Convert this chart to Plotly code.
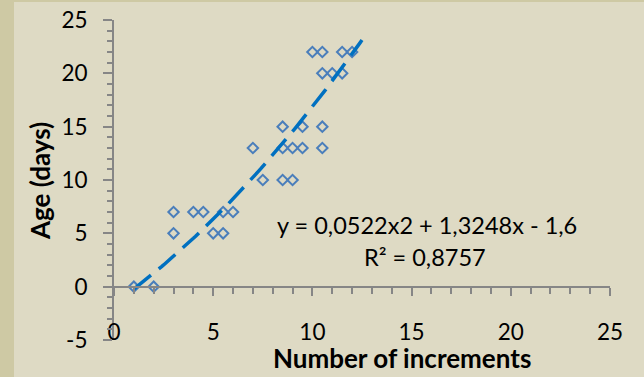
import plotly.graph_objects as go

# Data
increments = [1, 2, 3, 3, 4, 4.5, 5, 5.5, 5.5, 6, 7, 7.5, 8.5, 8.5, 8.5, 9, 9, 9.5, 9.5,
              10, 10.5, 10.5, 10.5, 10.5, 11, 11.5, 11.5, 12]
age_days = [0, 0, 7, 5, 7, 7, 5, 7, 5, 7, 13, 10, 15, 13, 10, 13, 10, 15, 13,
            22, 22, 20, 15, 13, 20, 20, 22, 22]

# Fitted polynomial shown on the chart
coef_a, coef_b, coef_c = 0.0522, 1.3248, -1.6
trend_x = [1 + i * 0.1 for i in range(116)]
trend_y = [coef_a * x * x + coef_b * x + coef_c for x in trend_x]

x_ticks = [0, 5, 10, 15, 20, 25]
x_labels = ["0", "5", "10", "15", "20", "25"]
y_ticks = [-5, 0, 5, 10, 15, 20, 25]
y_labels = ["-5", "0", "5", "10", "15", "20", "25"]

W, H = 644, 377
FONT = "Lato"
inner_bg = "#DEDAC4"
outer_bg = "#CEC9A4"
axis_col = "#868686"

x0_px, x1_px = 114, 610
ytop_px, ybot_px = 20, 340
xdom = [x0_px / W, x1_px / W]
ydom = [(H - ybot_px) / H, (H - ytop_px) / H]
y_zero_pos = ydom[0] + (ydom[1] - ydom[0]) * (0 - (-5)) / 30

fig = go.Figure()
fig.add_trace(go.Scatter(
    x=increments, y=age_days, mode="markers",
    marker=dict(symbol="diamond-open", size=8, color="#4A7EBB", line=dict(width=2, color="#4A7EBB")),
    showlegend=False, hoverinfo="skip"))
fig.add_trace(go.Scatter(
    x=trend_x, y=trend_y, mode="lines",
    line=dict(color="#0070C0", width=3.5, dash="22px,10px"),
    showlegend=False, hoverinfo="skip"))

fig.update_layout(
    width=W, height=H,
    margin=dict(l=0, r=0, t=0, b=0, autoexpand=False),
    paper_bgcolor=inner_bg, plot_bgcolor=inner_bg,
    font=dict(family=FONT, size=22, color="black"),
    xaxis=dict(
        domain=xdom, range=[0, 25], tickvals=x_ticks, ticktext=x_labels,
        anchor="free", position=y_zero_pos, automargin=False,
        showline=True, linecolor=axis_col, linewidth=2,
        ticks="outside", ticklen=8, tickwidth=2, tickcolor=axis_col,
        minor=dict(dtick=1, ticks="outside", ticklen=6, tickwidth=2, tickcolor=axis_col),
        showgrid=False, zeroline=False, ticklabelstandoff=17,
        tickfont=dict(family=FONT, size=22.5)),
    yaxis=dict(
        domain=ydom, range=[-5, 25], tickvals=y_ticks, ticktext=y_labels,
        automargin=False,
        showline=True, linecolor=axis_col, linewidth=2,
        ticks="outside", ticklen=9, tickwidth=2, tickcolor=axis_col,
        minor=dict(dtick=1, ticks="outside", ticklen=5, tickwidth=2, tickcolor=axis_col),
        showgrid=False, zeroline=False, ticklabelstandoff=11,
        tickfont=dict(family=FONT, size=22.5)),
    shapes=[
        dict(type="rect", xref="paper", yref="paper", x0=0, x1=14 / W, y0=0, y1=1,
             fillcolor=outer_bg, line=dict(width=0), layer="below"),
        dict(type="rect", xref="paper", yref="paper", x0=0, x1=1, y0=1 - 2 / H, y1=1,
             fillcolor=outer_bg, line=dict(width=0), layer="below"),
    ],
    annotations=[
        dict(text="<b>Number of increments</b>", xref="paper", yref="paper",
             x=402 / W, y=1 - 358 / H, showarrow=False, xanchor="center", yanchor="middle",
             font=dict(family=FONT, size=26)),
        dict(text="<b>Age (days)</b>", xref="paper", yref="paper",
             x=40 / W, y=1 - 181 / H, showarrow=False, textangle=-90,
             xanchor="center", yanchor="middle", font=dict(family=FONT, size=26)),
        dict(text="y = 0,0522x2 + 1,3248x - 1,6", xref="paper", yref="paper",
             x=427 / W, y=1 - 225 / H, showarrow=False, xanchor="center", yanchor="middle",
             font=dict(family=FONT, size=23.5)),
        dict(text="R² = 0,8757", xref="paper", yref="paper",
             x=425 / W, y=1 - 257 / H, showarrow=False, xanchor="center", yanchor="middle",
             font=dict(family=FONT, size=23.5)),
    ],
)

fig.write_html("out.html")
